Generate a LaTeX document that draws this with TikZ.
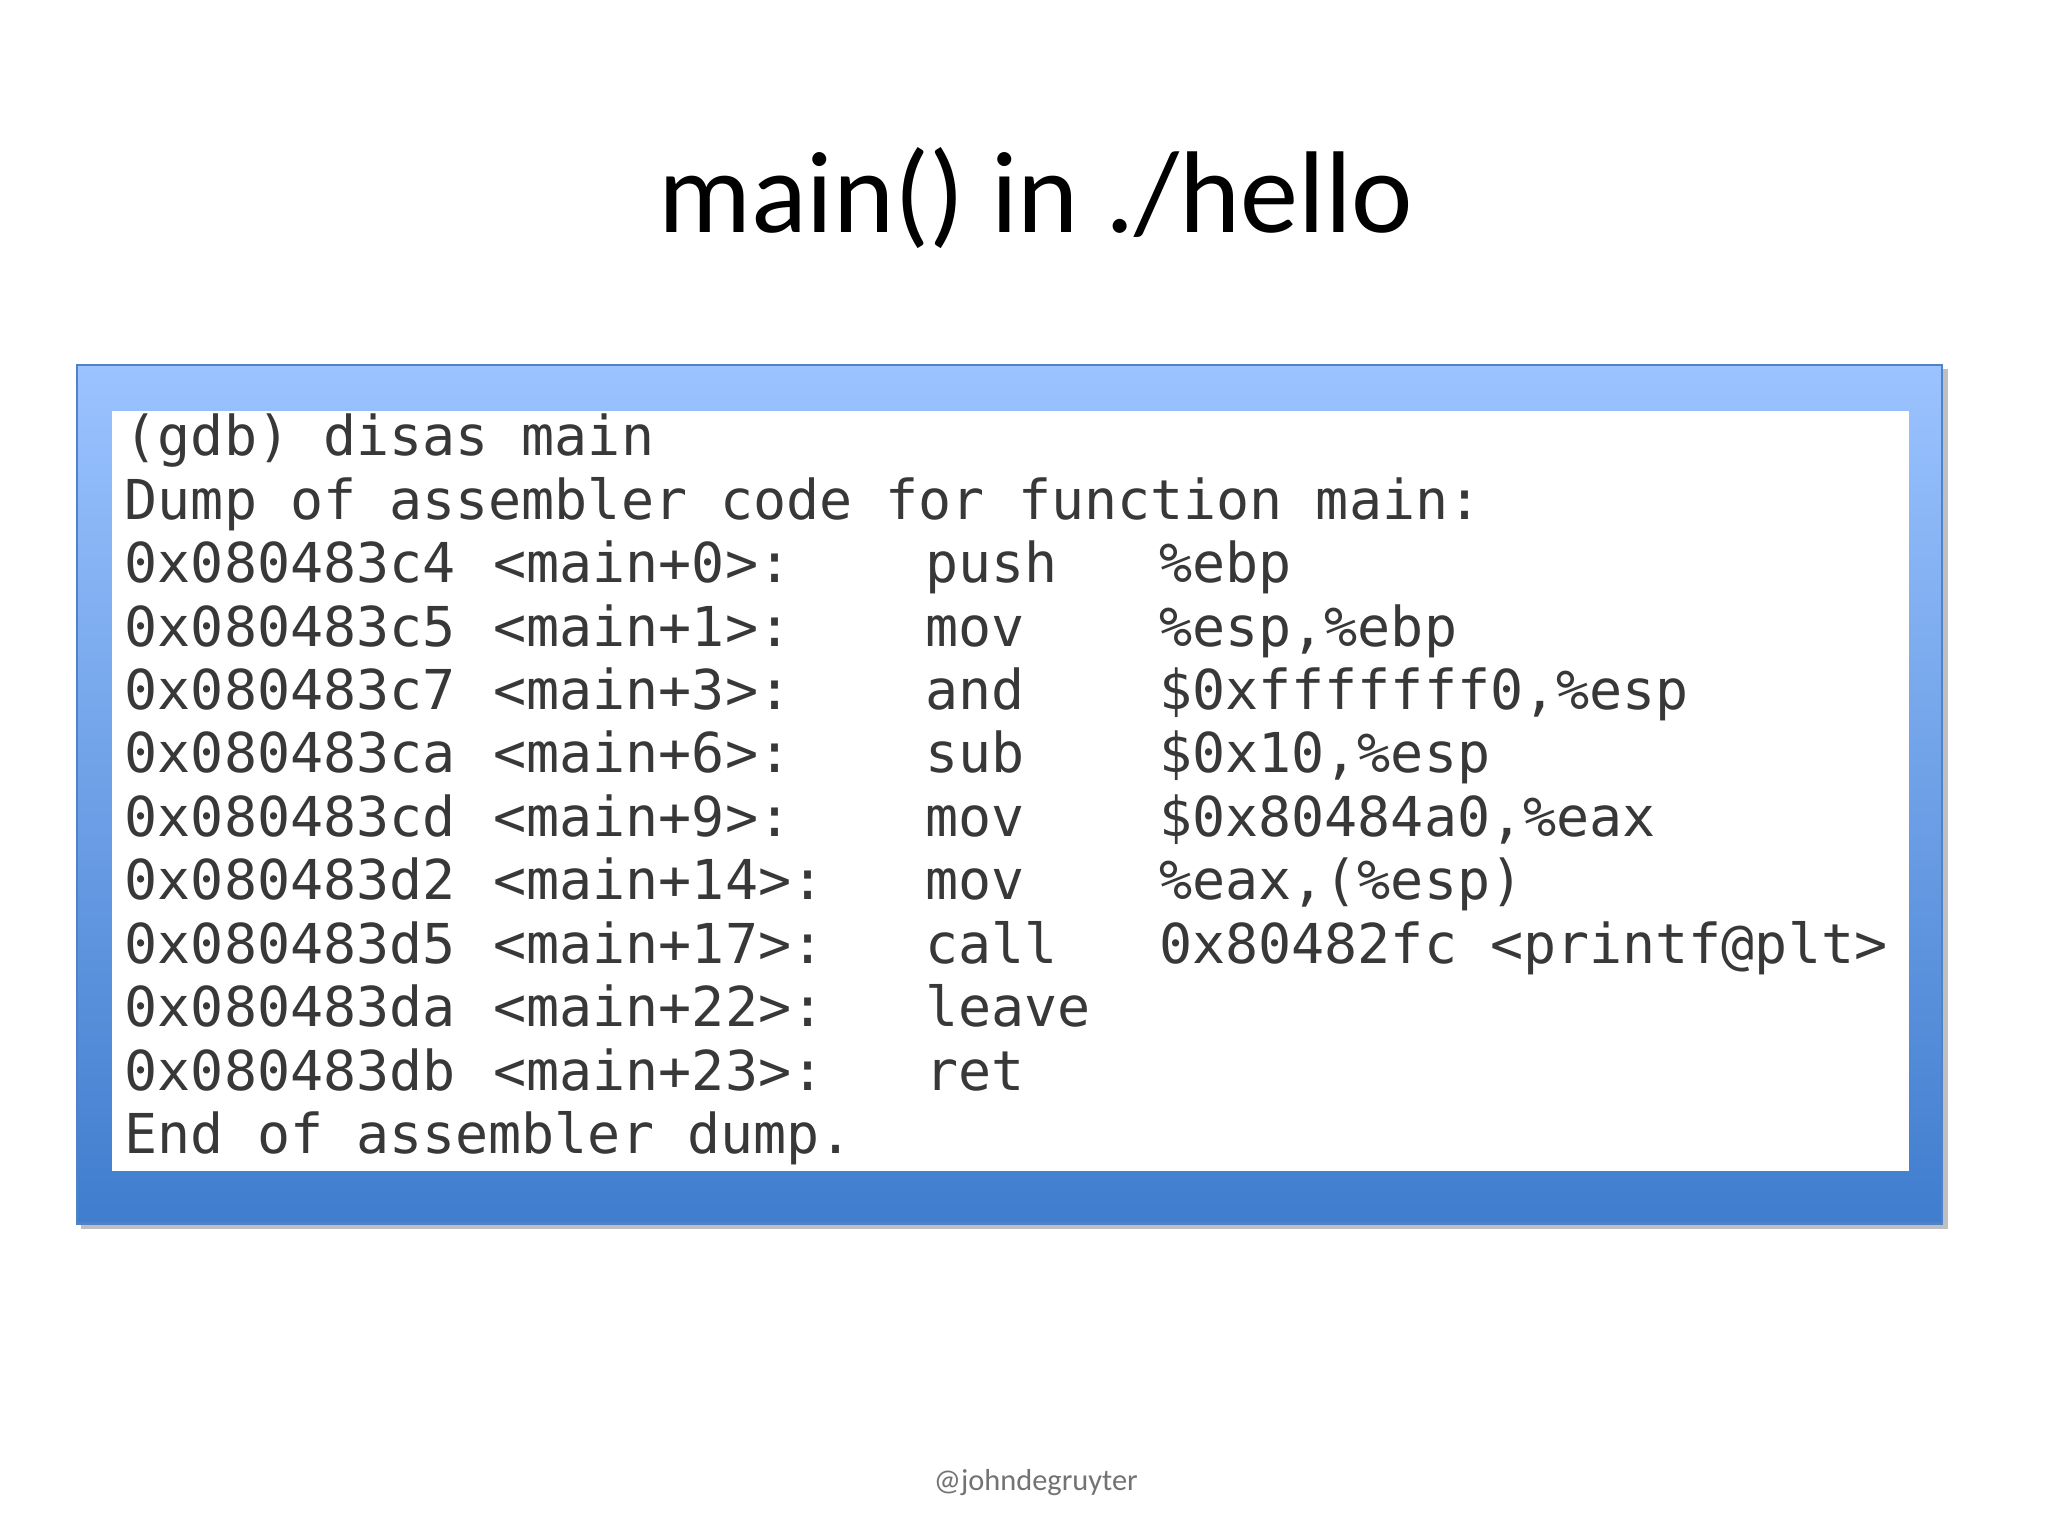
\documentclass[tikz,border=0pt]{standalone}
\usepackage{fontspec}
\setmainfont{Carlito}
\newfontfamily\codefont{DejaVu Sans Mono}
\definecolor{boxtop}{RGB}{155,195,255}
\definecolor{boxbot}{RGB}{64,125,206}
\definecolor{boxedge}{RGB}{80,130,200}
\begin{document}
\begin{tikzpicture}[x=0.5pt,y=-0.5pt,
  code/.style={anchor=base west,inner sep=0pt,font=\codefont\fontsize{20.8}{24}\selectfont,text=black!78}]
\useasboundingbox (0,0) rectangle (1550,1162);
\fill[white] (0,0) rectangle (1550,1162);
\node[font=\fontsize{44}{50}\selectfont] (title) at (784,150) {main() in ./hello};
\fill[black!25] (61,279) rectangle (1474,930);
\shade[top color=boxtop, bottom color=boxbot] (58,276) rectangle (1470,926);
\draw[boxedge,line width=0.8pt] (58,276) rectangle (1470,926);
\fill[white] (85,311) rectangle (1445,886);
\foreach \i/\a/\b/\c/\d in {
 2/0x080483c4/<main+0>:/push/\%ebp,
 3/0x080483c5/<main+1>:/mov/\%esp{,}\%ebp,
 4/0x080483c7/<main+3>:/and/\$0xfffffff0{,}\%esp,
 5/0x080483ca/<main+6>:/sub/\$0x10{,}\%esp,
 6/0x080483cd/<main+9>:/mov/\$0x80484a0{,}\%eax,
 7/0x080483d2/<main+14>:/mov/\%eax{,}(\%esp),
 8/0x080483d5/<main+17>:/call/0x80482fc <printf@plt>,
 9/0x080483da/<main+22>:/leave/,
 10/0x080483db/<main+23>:/ret/}{
  \node[code] (a\i) at (94,{345+48*(\i-2)+96}) {\a};
  \node[code] (b\i) at (373,{345+48*(\i-2)+96}) {\b};
  \node[code] (c\i) at (700,{345+48*(\i-2)+96}) {\c};
  \node[code] (d\i) at (877,{345+48*(\i-2)+96}) {\d};
}
\node[code] (l0) at (94,345) {(gdb) disas main};
\node[code] (l1) at (94,393) {Dump of assembler code for function main:};
\node[code] (l11) at (94,873) {End of assembler dump.};
\node[font=\fontsize{11.5}{14}\selectfont,text=black!55] (foot) at (784,1122) {@johndegruyter};
\end{tikzpicture}
\end{document}
